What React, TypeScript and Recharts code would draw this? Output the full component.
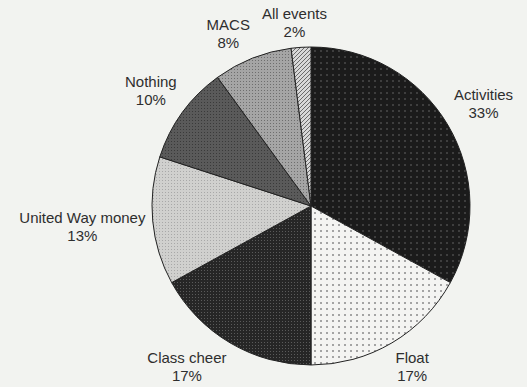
import React from 'react';
import { PieChart, Pie, Cell } from 'recharts';

const categories = ['Activities', 'Float', 'Class cheer', 'United Way money', 'Nothing', 'MACS', 'All events'];
const shares = [33, 17, 17, 13, 10, 8, 2];
const patternIds = ['pActivities', 'pFloat', 'pClass', 'pUnited', 'pNothing', 'pMacs', 'pAll'];

const data = categories.map((name, i) => ({ name, value: shares[i] }));

const RADIAN = Math.PI / 180;
const FONT = 15;

const charW: Record<string, number> = {
  ' ': 278, A: 667, C: 722, M: 833, N: 722, S: 667, U: 722, W: 944, F: 611,
  a: 556, c: 500, d: 556, e: 556, g: 556, h: 556, i: 222, l: 222, m: 833,
  n: 556, o: 556, r: 333, s: 500, t: 278, v: 500, y: 500,
};
const textWidth = (s: string) =>
  s.split('').reduce((acc, ch) => acc + (charW[ch] ?? 556), 0) * FONT / 1000;

const clamp = (v: number) => Math.max(-1, Math.min(1, v));

const renderLabel = (props: any) => {
  const { cx, cy, midAngle, outerRadius, name, value } = props;
  const ux = Math.cos(-midAngle * RADIAN);
  const uy = Math.sin(-midAngle * RADIAN);
  const R = outerRadius + 7;
  const w = textWidth(name);
  const h = 36;
  const x = cx + R * ux + (w / 2) * clamp(ux * 3);
  const y = cy + R * uy + (h / 2) * clamp(uy * 3);
  return (
    <g>
      <text x={x} y={y - 9} textAnchor="middle" dominantBaseline="central" fill="#2e2e2e" fontSize={FONT} fontFamily="'Liberation Sans', Arial, sans-serif">
        {name}
      </text>
      <text x={x} y={y + 9} textAnchor="middle" dominantBaseline="central" fill="#2e2e2e" fontSize={FONT} fontFamily="'Liberation Sans', Arial, sans-serif">
        {value}%
      </text>
    </g>
  );
};

export default function App() {
  return (
    <div style={{ position: 'absolute', left: 0, top: 0, width: 527, height: 387, background: '#f2f3f0' }}>
      <PieChart width={527} height={387} margin={{ top: 0, right: 0, bottom: 0, left: 0 }}>
        <defs>
          <pattern id="pActivities" width="6" height="6" patternUnits="userSpaceOnUse">
            <rect width="6" height="6" fill="#1b1b1b" />
            <circle cx="3" cy="3" r="0.8" fill="#6a6a6a" />
          </pattern>
          <pattern id="pFloat" width="6" height="6" patternUnits="userSpaceOnUse">
            <rect width="6" height="6" fill="#f4f4f2" />
            <circle cx="3" cy="3" r="1" fill="#8a8a8a" />
          </pattern>
          <pattern id="pClass" width="3" height="3" patternUnits="userSpaceOnUse">
            <rect width="3" height="3" fill="#262626" />
            <rect width="1" height="1" fill="#5a5a5a" />
          </pattern>
          <pattern id="pUnited" width="3" height="3" patternUnits="userSpaceOnUse">
            <rect width="3" height="3" fill="#d0d0ce" />
            <rect width="1" height="1" fill="#a8a8a8" />
          </pattern>
          <pattern id="pNothing" width="3" height="3" patternUnits="userSpaceOnUse">
            <rect width="3" height="3" fill="#5a5a5a" />
            <rect width="1" height="1" fill="#3a3a3a" />
          </pattern>
          <pattern id="pMacs" width="3" height="3" patternUnits="userSpaceOnUse">
            <rect width="3" height="3" fill="#a5a5a5" />
            <rect width="1" height="1" fill="#6e6e6e" />
          </pattern>
          <pattern id="pAll" width="4" height="4" patternUnits="userSpaceOnUse">
            <rect width="4" height="4" fill="#d8d8d8" />
            <path d="M-1,1 l2,-2 M0,4 l4,-4 M3,5 l2,-2" stroke="#6a6a6a" strokeWidth="1" />
          </pattern>
        </defs>
        <Pie
          data={data}
          dataKey="value"
          nameKey="name"
          cx={311}
          cy={206}
          outerRadius={159}
          startAngle={90}
          endAngle={-270}
          stroke="#222"
          strokeWidth={1}
          label={renderLabel}
          labelLine={false}
          isAnimationActive={false}
        >
          {data.map((d, i) => (
            <Cell key={d.name} fill={`url(#${patternIds[i]})`} />
          ))}
        </Pie>
      </PieChart>
    </div>
  );
}
